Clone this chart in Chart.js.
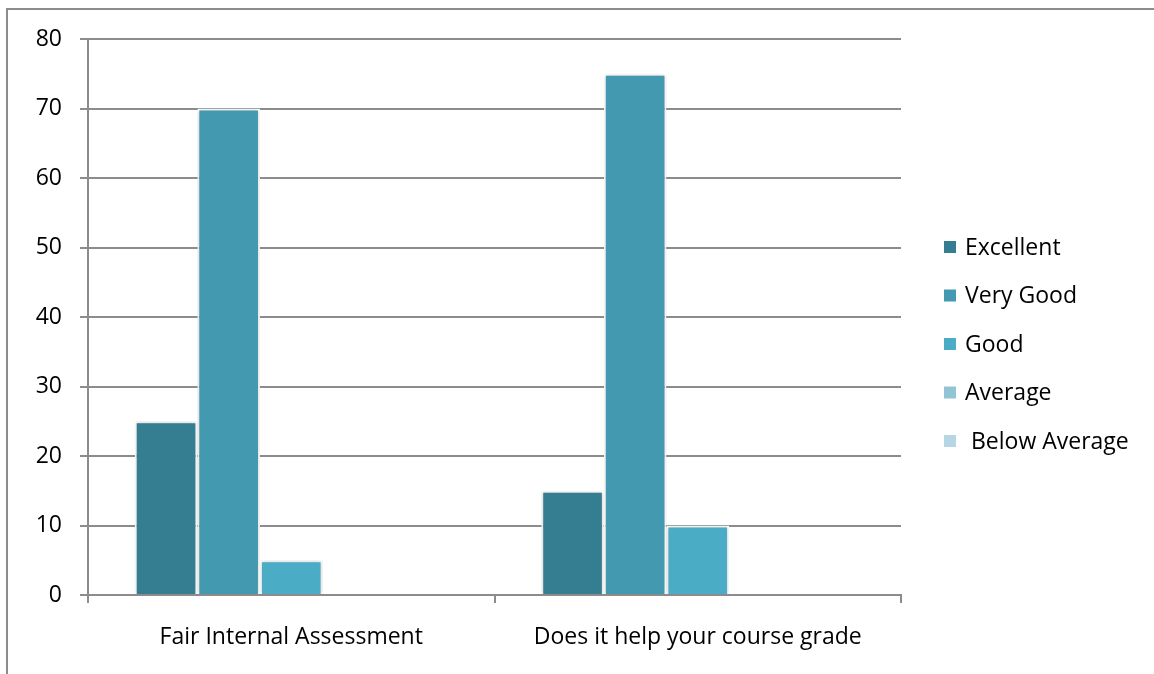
<!DOCTYPE html>
<html>
<head>
<meta charset="utf-8">
<script src="https://cdn.jsdelivr.net/npm/chart.js@4.4.1/dist/chart.umd.min.js"></script>
<style>
  html, body { margin: 0; padding: 0; background: #fff; }
  #wrap { position: relative; width: 1154px; height: 674px; overflow: hidden; }
  #frame { position: absolute; left: 6px; top: 8px; width: 1200px; height: 700px;
           border-top: 2px solid #8c8c8c; border-left: 2px solid #8c8c8c; }
  canvas { position: absolute; left: 0; top: 0; }
</style>
</head>
<body>
<div id="wrap">
  <div id="frame"></div>
  <canvas id="chart" width="1154" height="674"></canvas>
</div>
<script>
// survey categories
const categories = ['Fair Internal Assessment', 'Does it help your course grade']

// one array per rating
const excellent = [25, 15]
const veryGood = [70, 75]
const good = [5, 10]
const average = [0, 0]
const belowAverage = [0, 0]

const seriesNames = ['Excellent', 'Very Good', 'Good', 'Average', ' Below Average']
const seriesColors = ['#357d91', '#4299b0', '#4bacc6', '#93c4d5', '#b7d6e3']

const axisGray = '#8c8c8c'
const fontFamily = '"Open Sans", sans-serif'
const fontSize = 23

// soft shadow round the bars, like the office chart
const barShadow = {
  id: 'barShadow',
  beforeDatasetsDraw(chart) {
    const ctx = chart.ctx
    ctx.save()
    ctx.shadowColor = 'rgba(0, 0, 0, 0.22)'
    ctx.shadowBlur = 4
  },
  afterDatasetsDraw(chart) {
    chart.ctx.restore()
  }
}

// legend on the right, stacked with wide gaps
const sideLegend = {
  id: 'sideLegend',
  afterDraw(chart) {
    const ctx = chart.ctx
    const x = chart.chartArea.right + 43
    const top = 247
    const step = 48.5
    ctx.save()
    ctx.font = fontSize + 'px ' + fontFamily
    ctx.textBaseline = 'middle'
    chart.data.datasets.forEach((ds, i) => {
      const y = top + i * step
      ctx.fillStyle = ds.backgroundColor
      ctx.fillRect(x, y - 6, 12, 12)
      ctx.fillStyle = '#000'
      ctx.fillText(ds.label, x + 21, y + 1)
    })
    ctx.restore()
  }
}

const seriesData = [excellent, veryGood, good, average, belowAverage]

new Chart(document.getElementById('chart'), {
  type: 'bar',
  data: {
    labels: categories,
    datasets: seriesData.map((values, i) => ({
      label: seriesNames[i],
      data: values,
      backgroundColor: seriesColors[i],
      borderColor: '#ffffff',
      borderWidth: 2,
      borderSkipped: 'bottom',
      barPercentage: 1.0,
      categoryPercentage: 0.77
    }))
  },
  options: {
    responsive: false,
    animation: false,
    layout: {
      padding: { left: 0, right: 253, top: 39, bottom: 0 }
    },
    plugins: {
      legend: { display: false },
      tooltip: { enabled: false }
    },
    scales: {
      x: {
        offset: true,
        grid: {
          offset: true,
          drawOnChartArea: false,
          drawTicks: true,
          tickLength: 8,
          color: axisGray,
          lineWidth: 2
        },
        border: { color: axisGray, width: 2 },
        ticks: {
          color: '#000',
          padding: 21,
          font: { family: fontFamily, size: fontSize }
        },
        afterFit(scale) { scale.height = 79 }
      },
      y: {
        min: 0,
        max: 80,
        ticks: {
          stepSize: 10,
          color: '#000',
          padding: 18,
          font: { family: fontFamily, size: fontSize }
        },
        grid: {
          color: axisGray,
          lineWidth: 2,
          tickLength: 8
        },
        border: { color: axisGray, width: 2 },
        afterFit(scale) { scale.width = 88 }
      }
    }
  },
  plugins: [barShadow, sideLegend]
})
</script>
</body>
</html>
